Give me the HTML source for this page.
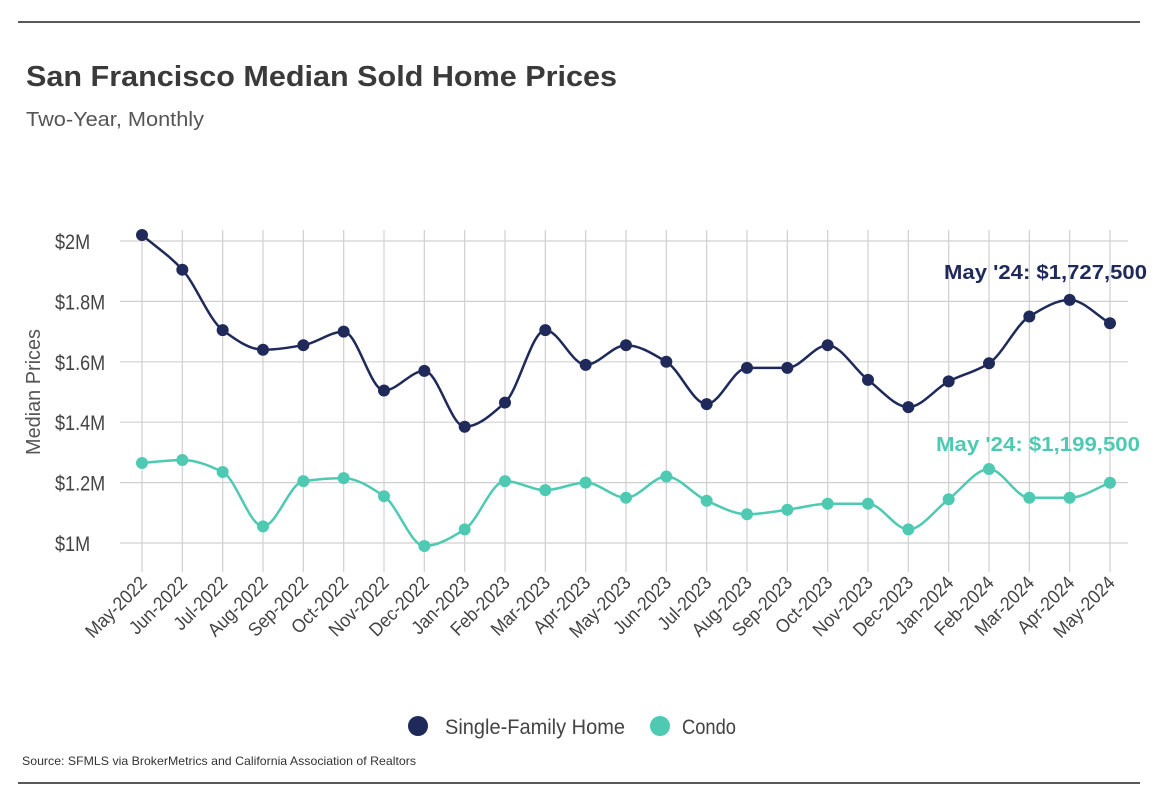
<!DOCTYPE html>
<html><head><meta charset="utf-8"><style>
body{margin:0;background:#fff;width:1168px;height:804px;overflow:hidden;font-family:"Liberation Sans",sans-serif;}
</style></head><body>
<svg width="1168" height="804" style="position:absolute;left:0;top:0">
<line x1="18" y1="22" x2="1140" y2="22" stroke="#222" stroke-width="1.5"/>
<line x1="18" y1="783" x2="1140" y2="783" stroke="#222" stroke-width="1.5"/>
<text x="26" y="86" font-size="29" font-weight="bold" fill="#3a3a3a" textLength="591" lengthAdjust="spacingAndGlyphs">San Francisco Median Sold Home Prices</text>
<text x="26" y="126" font-size="20" fill="#555" textLength="178" lengthAdjust="spacingAndGlyphs">Two-Year, Monthly</text>
<text transform="translate(40,392) rotate(-90)" text-anchor="middle" font-size="20" fill="#555" textLength="126" lengthAdjust="spacingAndGlyphs">Median Prices</text>
<g id="grid"></g><g id="ylab" transform="translate(55,0) scale(0.86,1) translate(-55,0)"></g><g id="xlab"></g><g id="series"></g>
<text x="944" y="279" font-size="20" font-weight="bold" fill="#1f2a5a" textLength="203" lengthAdjust="spacingAndGlyphs">May '24: $1,727,500</text>
<text x="936" y="451" font-size="20" font-weight="bold" fill="#4ecab3" textLength="204" lengthAdjust="spacingAndGlyphs">May '24: $1,199,500</text>
<circle cx="418" cy="726" r="10" fill="#1f2a5a"/>
<text x="445" y="734" font-size="21" fill="#444" textLength="180" lengthAdjust="spacingAndGlyphs">Single-Family Home</text>
<circle cx="660" cy="726" r="10" fill="#4ecab3"/>
<text x="682" y="734" font-size="21" fill="#444" textLength="54" lengthAdjust="spacingAndGlyphs">Condo</text>
<text x="22" y="765" font-size="12" fill="#333" textLength="394" lengthAdjust="spacingAndGlyphs">Source:  SFMLS via BrokerMetrics and California Association of Realtors</text>
</svg>
<script>
const months=["May-2022","Jun-2022","Jul-2022","Aug-2022","Sep-2022","Oct-2022","Nov-2022","Dec-2022","Jan-2023","Feb-2023","Mar-2023","Apr-2023","May-2023","Jun-2023","Jul-2023","Aug-2023","Sep-2023","Oct-2023","Nov-2023","Dec-2023","Jan-2024","Feb-2024","Mar-2024","Apr-2024","May-2024"];
const sfh=[2.02,1.905,1.705,1.64,1.655,1.70,1.505,1.57,1.385,1.465,1.705,1.59,1.655,1.60,1.46,1.58,1.58,1.655,1.54,1.45,1.535,1.595,1.75,1.805,1.7275];
const condo=[1.265,1.275,1.235,1.055,1.205,1.215,1.155,0.99,1.045,1.205,1.175,1.20,1.15,1.22,1.14,1.095,1.11,1.13,1.13,1.045,1.145,1.245,1.15,1.15,1.1995];
const yTicks=[1,1.2,1.4,1.6,1.8,2];
const yTickLabels=["$1M","$1.2M","$1.4M","$1.6M","$1.8M","$2M"];
const NS="http://www.w3.org/2000/svg";
const X=i=>142+i*(968/(months.length-1));
const Y=v=>543-(v-1)*302;
function mk(t,a,p){const e=document.createElementNS(NS,t);for(const k in a)e.setAttribute(k,a[k]);p.appendChild(e);return e;}
const grid=document.getElementById('grid'),ylab=document.getElementById('ylab'),xlab=document.getElementById('xlab'),ser=document.getElementById('series');
yTicks.forEach((v,i)=>{
 const l=mk('line',{x1:120,x2:1128,y1:Y(v),y2:Y(v),stroke:'#d0d0d0','stroke-width':1.2},grid);
 
 
 const t=mk('text',{x:55,y:Y(v)+8,'font-size':21,fill:'#444'},ylab);t.textContent=yTickLabels[i];
 
 
});
months.forEach((m,i)=>{
 const l=mk('line',{x1:X(i),x2:X(i),y1:230,y2:572,stroke:'#d0d0d0','stroke-width':1.2},grid);
 
 
 const t=mk('text',{transform:`translate(${X(i)+6},${584}) rotate(-45) scale(0.92,1)`,'text-anchor':'end','font-size':19,fill:'#444'},xlab);t.textContent=m;
 
 
});
function path(vals){
 const p=vals.map((v,i)=>[X(i),Y(v)]);const n=p.length;
 const d=[],m=[];
 for(let i=0;i<n-1;i++)d.push((p[i+1][1]-p[i][1])/(p[i+1][0]-p[i][0]));
 m[0]=d[0];m[n-1]=d[n-2];
 for(let i=1;i<n-1;i++)m[i]=d[i-1]*d[i]<=0?0:2/(1/d[i-1]+1/d[i]);
 let s=`M${p[0][0]},${p[0][1]}`;
 for(let i=0;i<n-1;i++){const h=(p[i+1][0]-p[i][0])/3;
  s+=`C${p[i][0]+h},${p[i][1]+m[i]*h} ${p[i+1][0]-h},${p[i+1][1]-m[i+1]*h} ${p[i+1][0]},${p[i+1][1]}`;}
 return s;
}
[[sfh,'#1f2a5a','sfh'],[condo,'#4ecab3','condo']].forEach(([vals,c,n])=>{
 const pl=mk('path',{d:path(vals),fill:'none',stroke:c,'stroke-width':2.5},ser);
 
 
 vals.forEach((v,i)=>{const pt=mk('circle',{cx:X(i),cy:Y(v),r:6,fill:c},ser);
  
  });
});
</script>
</body></html>
